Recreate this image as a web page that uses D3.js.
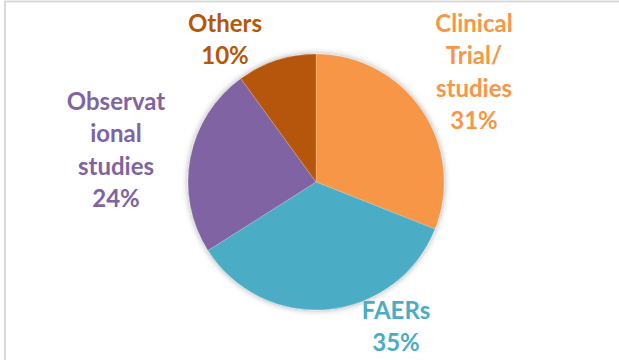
<!DOCTYPE html>
<html><head><meta charset="utf-8">
<script src="https://cdn.jsdelivr.net/npm/d3@7"></script>
<style>html,body{margin:0;padding:0;background:#fff;}svg{display:block;}</style>
</head><body>
<script>
const categories = ["Clinical Trial/ studies", "FAERs", "Observational studies", "Others"];
const values = [31, 35, 24, 10];
const labelLines = [["Clinical", "Trial/", "studies"], ["FAERs"], ["Observat", "ional", "studies"], ["Others"]];
const colors = ["#F79646", "#4BACC6", "#8064A2", "#B65708"];

const W = 619, H = 360;
const svg = d3.select("body").append("svg").attr("width", W).attr("height", H);

svg.append("rect").attr("x", 5).attr("y", 1.5).attr("width", W).attr("height", H)
  .attr("fill", "#fff").attr("stroke", "#d9d9d9").attr("stroke-width", 2);

const defs = svg.append("defs");
const f = defs.append("filter").attr("id", "sh").attr("x", "-20%").attr("y", "-20%").attr("width", "140%").attr("height", "140%");
f.append("feDropShadow").attr("dx", 0).attr("dy", 0).attr("stdDeviation", 3)
  .attr("flood-color", "#000").attr("flood-opacity", 0.35);

const cx = 316, cy = 182, r = 128;
const pie = d3.pie().sort(null).value(d => d)(values);
const arc = d3.arc().innerRadius(0).outerRadius(r);

const g = svg.append("g").attr("transform", `translate(${cx},${cy})`).attr("filter", "url(#sh)");
g.selectAll("path").data(pie).join("path")
  .attr("d", arc).attr("fill", (d, i) => colors[i])
  .attr("stroke", "#fff").attr("stroke-width", 0.4).attr("stroke-opacity", 0.5);

// label anchor positions (center x, first baseline y)
const labelPos = [[474, 32], [396, 319], [116, 110], [225, 32]];
const lh = 32.3;
pie.forEach((d, i) => {
  const lines = labelLines[i].concat([d3.format(".0f")(d.value / d3.sum(values) * 100) + "%"]);
  const t = svg.append("text").attr("text-anchor", "middle")
    .attr("font-family", "Lato, 'Open Sans', sans-serif").attr("font-weight", "bold")
    .attr("font-size", 24).attr("fill", colors[i]);
  lines.forEach((s, j) => {
    t.append("tspan").attr("x", labelPos[i][0]).attr("y", labelPos[i][1] + j * lh).text(s);
  });
});
</script>
</body></html>
